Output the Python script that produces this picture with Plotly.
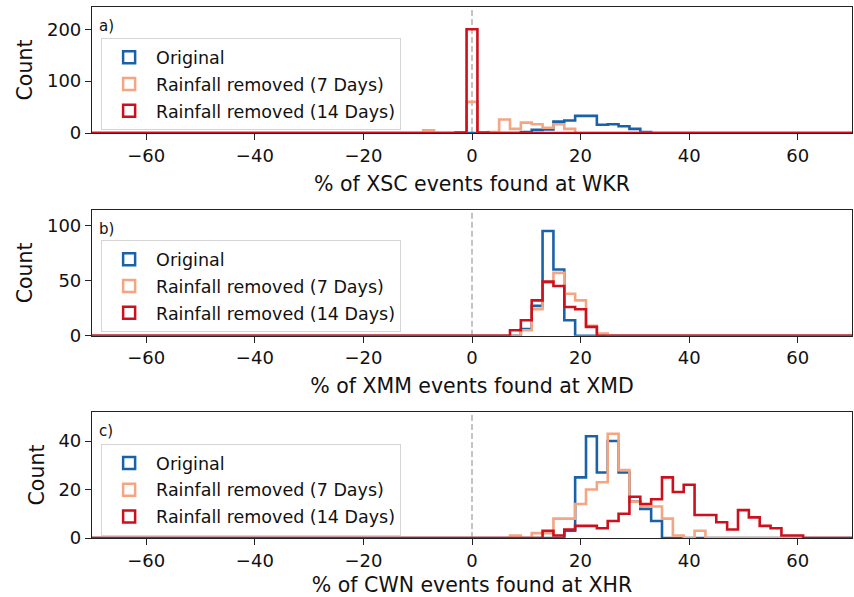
import numpy as np
import plotly.graph_objects as go

# ---------------- data ----------------
BIN_WIDTH = 2
HIST_LO, HIST_HI = -71, 71
series_names = ["Original", "Rainfall removed (7 Days)", "Rainfall removed (14 Days)"]
series_colors = ["#1a62a8", "#f4a582", "#cc101e"]

x_titles = ["% of XSC events found at WKR",
            "% of XMM events found at XMD",
            "% of CWN events found at XHR"]
panel_labels = ["a)", "b)", "c)"]
y_ranges = [[0, 243], [0, 114], [0, 52]]
y_ticks = [[0, 100, 200], [0, 50, 100], [0, 20, 40]]
x_ticks = [-60, -40, -20, 0, 20, 40, 60]
ref_line_x = 0

# panel a  (first bin left edge, counts per 2-% bin)
a_orig_start = 9
a_orig = [2, 6, 7, 22, 24, 33, 33, 16, 17, 13, 8, 2]
a_7d_start = -9
a_7d = [5, 0, 0, 1, 60, 0, 2, 26, 8, 20, 17, 10, 17, 8]
a_14d_start = -3
a_14d = [1, 200, 1]

# panel b
b_orig_start = 9
b_orig = [6, 27, 95, 60, 14]
b_7d_start = 9
b_7d = [5, 24, 48, 57, 38, 32, 9, 2]
b_14d_start = 7
b_14d = [5, 14, 32, 49, 45, 26, 24, 8]

# panel c
c_orig_start = 17
c_orig = [3, 25, 42, 27, 40, 27, 15, 12, 7]
c_7d_start = 7
c_7d = [1, 0, 2, 2, 8, 8, 14, 20, 23, 43, 28, 15, 13, 13, 8, 1, 0, 3]
c_14d_start = 13
c_14d = [3, 1, 3.5, 5, 5, 4, 7, 10, 17, 14, 16, 25, 19, 22, 9.5, 9.5, 6.5, 3.5,
         11.5, 8.5, 5, 4, 1, 1]

panels = [
    [(a_orig_start, a_orig), (a_7d_start, a_7d), (a_14d_start, a_14d)],
    [(b_orig_start, b_orig), (b_7d_start, b_7d), (b_14d_start, b_14d)],
    [(c_orig_start, c_orig), (c_7d_start, c_7d), (c_14d_start, c_14d)],
]


def step_xy(start, counts):
    edges = np.arange(HIST_LO, HIST_HI + BIN_WIDTH, BIN_WIDTH)
    full = np.zeros(len(edges) - 1)
    i0 = int((start - HIST_LO) // BIN_WIDTH)
    full[i0:i0 + len(counts)] = counts
    x = np.concatenate([[edges[0]], edges[:-1], [edges[-1]]])
    y = np.concatenate([[0], full, [0]])
    return x, y


FONT = "DejaVu Sans"
fig = go.Figure()

domains = [[0.7627, 1.0], [0.381, 0.6177], [0.0, 0.2373]]
legend_y = [0.941, 0.5606, 0.177]
legend_keys = ["legend", "legend2", "legend3"]

for p, series in enumerate(panels):
    xa = "x" if p == 0 else f"x{p+1}"
    ya = "y" if p == 0 else f"y{p+1}"
    for s, (start, counts) in enumerate(series):
        x, y = step_xy(start, counts)
        fig.add_trace(go.Scatter(
            x=x, y=y, mode="lines", line=dict(color=series_colors[s], width=2.6, shape="hv"),
            xaxis=xa, yaxis=ya, showlegend=False, hoverinfo="skip"))
    for s in range(3):
        fig.add_trace(go.Bar(
            x=[None], y=[None], name=series_names[s], xaxis=xa, yaxis=ya,
            marker=dict(color="white", line=dict(color=series_colors[s], width=2.5)),
            legend=legend_keys[p], legendgroup=f"g{p}{s}", showlegend=True))

    axis_common = dict(showline=True, linecolor="#222222", linewidth=1.2, mirror=True,
                       ticks="outside", ticklen=6, tickwidth=1.2, tickcolor="#222222",
                       showgrid=False, zeroline=False,
                       tickfont=dict(family=FONT, size=18, color="#111111"))
    fig.layout[("xaxis" if p == 0 else f"xaxis{p+1}")] = dict(
        axis_common, range=[-70, 70], tickvals=x_ticks, anchor=ya,
        domain=[0, 1],
        title=dict(text=x_titles[p], font=dict(family=FONT, size=20.5, color="#111111"), standoff=11))
    fig.layout[("yaxis" if p == 0 else f"yaxis{p+1}")] = dict(
        axis_common, range=y_ranges[p], tickvals=y_ticks[p], anchor=xa,
        domain=domains[p],
        title=dict(text="Count", font=dict(family=FONT, size=20.5, color="#111111"), standoff=8))

    fig.add_shape(type="line", xref=xa, yref=f"{ya} domain", x0=ref_line_x, x1=ref_line_x,
                  y0=0, y1=1, line=dict(color="#c4c4c4", width=2, dash="6px,3px"), layer="below")
    fig.add_annotation(text=panel_labels[p], xref=f"{xa} domain", yref=f"{ya} domain",
                       x=0.007, y=1 - 19 / 126, xanchor="left", yanchor="middle",
                       showarrow=False, font=dict(family=FONT, size=15, color="#111111"))
    fig.layout[legend_keys[p]] = dict(
        x=0.012, y=legend_y[p], xanchor="left", yanchor="top",
        bgcolor="rgba(255,255,255,0.85)", bordercolor="#d5d5d5", borderwidth=1,
        font=dict(family=FONT, size=17.5, color="#111111"),
        itemwidth=44, tracegroupgap=1)

fig.update_layout(
    width=854, height=597,
    margin=dict(l=92, r=2, t=7, b=59),
    plot_bgcolor="white", paper_bgcolor="white",
    barmode="overlay",
)

fig.write_html("out.html")
